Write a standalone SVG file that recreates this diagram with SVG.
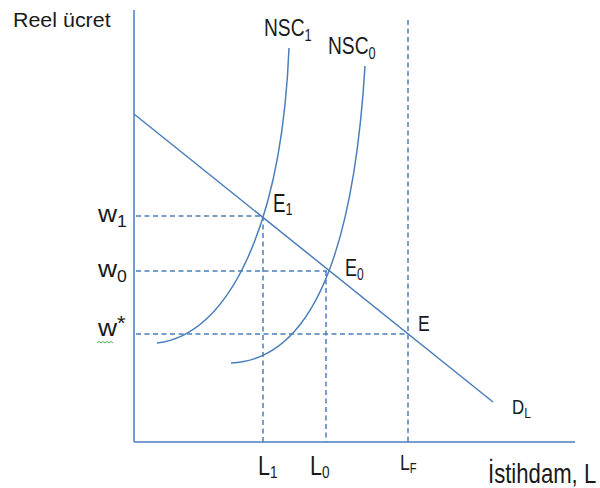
<svg xmlns="http://www.w3.org/2000/svg" width="600" height="488" viewBox="0 0 600 488">
<style>
.ln{fill:none;stroke:#4A7EBB;stroke-width:1.5}
.ds{fill:none;stroke:#4A7EBB;stroke-width:1.5;stroke-dasharray:5 3.5}
text{font-family:"Liberation Sans",Arial,sans-serif;fill:#1a1a1a}
</style>
<rect width="600" height="488" fill="#ffffff"/>
<g id="connectors">
<line class="ln" x1="134" y1="10" x2="134" y2="442"/>
<line class="ln" x1="134" y1="442" x2="575" y2="442"/>
<line class="ds" x1="136" y1="216" x2="263" y2="216"/>
<line class="ds" x1="136" y1="271" x2="327" y2="271"/>
<line class="ds" x1="136" y1="334" x2="408" y2="334"/>
<line class="ds" x1="263" y1="216" x2="263" y2="442"/>
<line class="ds" x1="326" y1="271" x2="326" y2="442"/>
<line class="ds" x1="408" y1="20" x2="408" y2="442"/>
</g>
<g id="demand">
<line class="ln" x1="134" y1="114" x2="493" y2="402"/>
</g>
<g id="nsc1">
<path class="ln" d="M157,343 C230,335 282,222 289,48"/>
</g>
<g id="nsc0">
<path class="ln" d="M231,363 C300,360 352,280 365,66"/>
</g>
<g id="labels">
<text transform="translate(13,27) scale(1.02,1)" font-size="21">Reel ücret</text>
<text transform="translate(264,36) scale(0.8,1)" font-size="24">NSC<tspan font-size="16" dy="5">1</tspan></text>
<text transform="translate(328,54) scale(0.8,1)" font-size="24">NSC<tspan font-size="16" dy="5">0</tspan></text>
<text transform="translate(98,222) scale(1.1,1)" font-size="24">w<tspan font-size="16" dy="5">1</tspan></text>
<text transform="translate(98,277) scale(1.1,1)" font-size="24">w<tspan font-size="16" dy="5">0</tspan></text>
<text transform="translate(98,336) scale(1.1,1)" font-size="24">w<tspan font-size="20" dy="-6">*</tspan></text>
<path d="M97,343 l2,-1.5 l2,1.5 l2,-1.5 l2,1.5 l2,-1.5 l2,1.5 l2,-1.5 l2,1.5" fill="none" stroke="#4CAF50" stroke-width="1"/>
<text transform="translate(273,212) scale(0.75,1)" font-size="25">E<tspan font-size="17" dy="3">1</tspan></text>
<text transform="translate(345,276) scale(0.75,1)" font-size="24">E<tspan font-size="16" dy="4">0</tspan></text>
<text transform="translate(418,331) scale(0.8,1)" font-size="22">E</text>
<text transform="translate(512,414) scale(0.8,1)" font-size="21">D<tspan font-size="15" dy="4">L</tspan></text>
<text transform="translate(258,475) scale(0.8,1)" font-size="27">L<tspan font-size="17" dy="3">1</tspan></text>
<text transform="translate(310,475) scale(0.8,1)" font-size="27">L<tspan font-size="17" dy="3">0</tspan></text>
<text transform="translate(400,470) scale(0.8,1)" font-size="22">L<tspan font-size="14" dy="3">F</tspan></text>
<text transform="translate(488,483) scale(0.82,1)" font-size="27">İstihdam, L</text>
</g>
</svg>
